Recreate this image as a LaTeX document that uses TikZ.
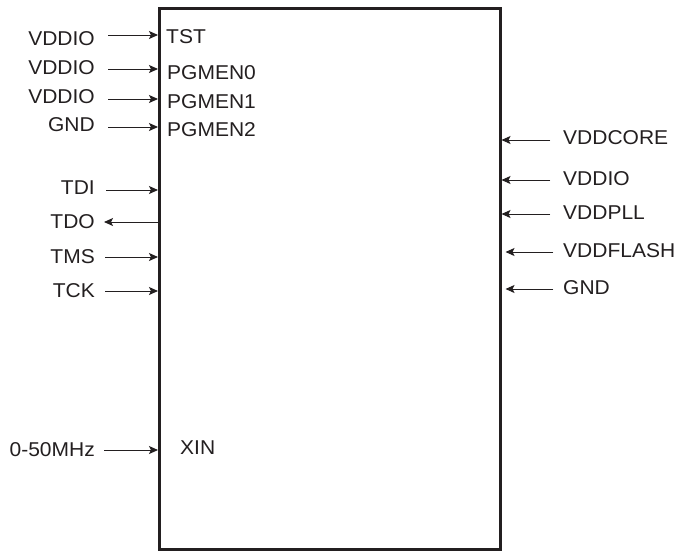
\documentclass[tikz,border=0pt]{standalone}
\usepackage{fontspec}
\setmainfont{Liberation Sans}[FakeStretch=1.05]
\usetikzlibrary{arrows.meta}
\definecolor{ink}{HTML}{231F20}
\begin{document}
\begin{tikzpicture}[x=1pt,y=-1pt,
  lbl/.style={font=\fontsize{20}{24}\selectfont, inner sep=0pt, text=ink},
  sig/.style={-{Stealth[length=9pt,width=8pt,inset=2pt]}, line width=1pt, draw=ink, fill=ink},
  chipbox/.style={draw=ink, line width=2.5pt, minimum width=341pt, minimum height=541pt, anchor=north west}]
\useasboundingbox (0,0) rectangle (678,550);
\node[chipbox] (chip) at (158,7) {};
% pin labels inside
\node[lbl, anchor=west] (pTST) at (166,37) {TST};
\node[lbl, anchor=west] (pPG0) at (167,73) {PGMEN0};
\node[lbl, anchor=west] (pPG1) at (167,102) {PGMEN1};
\node[lbl, anchor=west] (pPG2) at (167,130) {PGMEN2};
\node[lbl, anchor=west] (pXIN) at (180,448) {XIN};
% left signals
\node[lbl, anchor=east] (l1) at (95,39) {VDDIO};
\node[lbl, anchor=east] (l2) at (95,68) {VDDIO};
\node[lbl, anchor=east] (l3) at (95,97) {VDDIO};
\node[lbl, anchor=east] (l4) at (95,125) {GND};
\node[lbl, anchor=east] (l5) at (95,188) {TDI};
\node[lbl, anchor=east] (l6) at (95,222) {TDO};
\node[lbl, anchor=east] (l7) at (95,257) {TMS};
\node[lbl, anchor=east] (l8) at (95,291) {TCK};
\node[lbl, anchor=east] (l9) at (95,450) {0-50MHz};
\coordinate (a1) at (108,35);
\coordinate (a2) at (108,69);
\coordinate (a3) at (108,99);
\coordinate (a4) at (108,127);
\coordinate (a5) at (106,190);
\coordinate (a6) at (104,222);
\coordinate (a7) at (105,257);
\coordinate (a8) at (105,291);
\coordinate (a9) at (104,450);
\draw[sig] (a1) -- (a1 -| chip.west);
\draw[sig] (a2) -- (a2 -| chip.west);
\draw[sig] (a3) -- (a3 -| chip.west);
\draw[sig] (a4) -- (a4 -| chip.west);
\draw[sig] (a5) -- (a5 -| chip.west);
\draw[sig] (a6 -| chip.west) -- (a6);
\draw[sig] (a7) -- (a7 -| chip.west);
\draw[sig] (a8) -- (a8 -| chip.west);
\draw[sig] (a9) -- (a9 -| chip.west);
% right signals
\node[lbl, anchor=west] (r1) at (563,138) {VDDCORE};
\node[lbl, anchor=west] (r2) at (563,179) {VDDIO};
\node[lbl, anchor=west] (r3) at (563,213) {VDDPLL};
\node[lbl, anchor=west] (r4) at (563,251) {VDDFLASH};
\node[lbl, anchor=west] (r5) at (563,288) {GND};
\coordinate (b1) at (550,140);
\coordinate (b2) at (550,180);
\coordinate (b3) at (550,214);
\coordinate (b4) at (553,252);
\coordinate (b5) at (553,289);
\draw[sig] (b1) -- (b1 -| chip.east);
\draw[sig] (b2) -- (b2 -| chip.east);
\draw[sig] (b3) -- (b3 -| chip.east);
\draw[sig] (b4) -- ([xshift=4pt]b4 -| chip.east);
\draw[sig] (b5) -- ([xshift=4pt]b5 -| chip.east);
\end{tikzpicture}
\end{document}
